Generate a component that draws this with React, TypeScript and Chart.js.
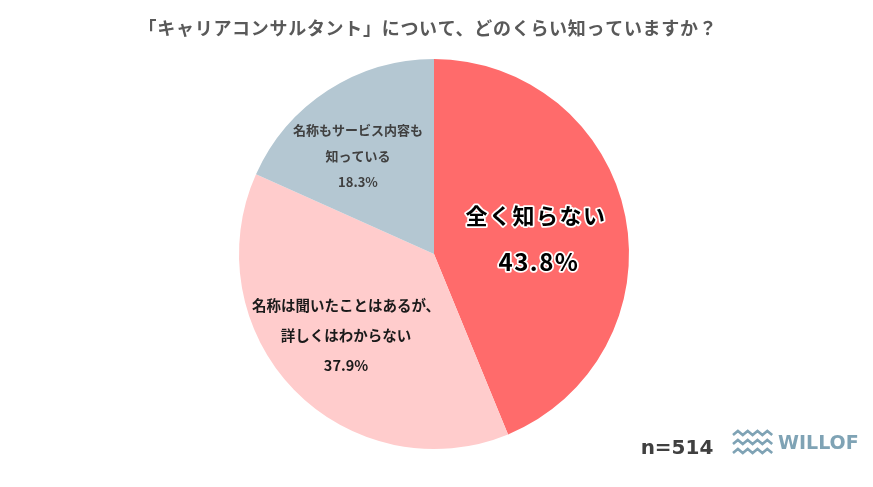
import React, { useEffect, useRef } from "react";
import { Chart, registerables } from "chart.js";

Chart.register(...registerables);

const title = "「キャリアコンサルタント」について、どのくらい知っていますか？";
const categories = ["全く知らない", "名称は聞いたことはあるが、詳しくはわからない", "名称もサービス内容も知っている"];
const labelLines = [["全く知らない", "43.8%"], ["名称は聞いたことはあるが、", "詳しくはわからない", "37.9%"], ["名称もサービス内容も", "知っている", "18.3%"]];
const values = [43.8, 37.9, 18.3];
const colors = ["#FF6B6B", "#FFCCCC", "#B4C7D2"];
const sampleNote = "n=514";
const brand = "WILLOF";

const JP = '"Noto Sans CJK JP", "Noto Sans", sans-serif';

const overlay = {
  id: "overlay",
  afterDraw(chart: any) {
    const ctx = chart.ctx as any;
    const arc = chart.getDatasetMeta(0).data[0];
    const cx = arc.x;
    const cy = arc.y;
    ctx.save();
    ctx.textAlign = "center";
    ctx.textBaseline = "middle";
    // title
    ctx.fillStyle = "#595959";
    ctx.font = `bold 18px ${JP}`;
    ctx.letterSpacing = "0.7px";
    ctx.fillText(title, 428, 28);

    // red label (with white halo)
    ctx.lineJoin = "round";
    ctx.lineWidth = 3.5;
    ctx.strokeStyle = "#ffffff";
    const rl = labelLines[0];
    const rpos = [[cx + 102, cy - 38], [cx + 105, cy + 8]];
    const rfont = [`bold 22px ${JP}`, `bold 24px ${JP}`];
    const rsp = ["1.5px", "1.5px"];
    rl.forEach((t, i) => {
      ctx.font = rfont[i];
      ctx.letterSpacing = rsp[i];
      ctx.strokeText(t, rpos[i][0], rpos[i][1]);
      ctx.fillStyle = "#000000";
      ctx.fillText(t, rpos[i][0], rpos[i][1]);
    });
    ctx.letterSpacing = "0px";

    // pink label
    ctx.fillStyle = "#1a1a1a";
    ctx.font = `bold 14.5px ${JP}`;
    labelLines[1].forEach((t, i) => {
      ctx.fillText(t, cx - 88, cy + 51 + i * 30);
    });

    // grey label
    ctx.fillStyle = "#404040";
    ctx.font = `bold 13px ${JP}`;
    labelLines[2].forEach((t, i) => {
      ctx.fillText(t, cx - 76, cy - 124 + i * 26);
    });

    // n
    ctx.fillStyle = "#404040";
    ctx.font = `bold 20px "DejaVu Sans", sans-serif`;
    ctx.fillText(sampleNote, 677, 449);

    // logo waves
    const logoColor = "#7FA3B5";
    ctx.strokeStyle = logoColor;
    ctx.lineWidth = 2.6;
    ctx.lineJoin = "miter";
    for (let r = 0; r < 3; r++) {
      const y0 = 433 + r * 9;
      ctx.beginPath();
      for (let k = 0; k <= 8; k++) {
        const x = 733 + k * 4.9;
        const y = k % 2 === 0 ? y0 + 2 : y0 - 2;
        if (k === 0) ctx.moveTo(x, y);
        else ctx.lineTo(x, y);
      }
      ctx.stroke();
    }
    ctx.fillStyle = logoColor;
    ctx.textAlign = "left";
    ctx.font = `bold 19px "DejaVu Sans", sans-serif`;
    ctx.fillText(brand, 778, 444);
    ctx.restore();
  },
};

export default function App() {
  const ref = useRef<HTMLCanvasElement>(null);
  useEffect(() => {
    const chart = new Chart(ref.current!, {
      type: "pie",
      data: {
        labels: categories,
        datasets: [
          {
            data: values,
            backgroundColor: colors,
            borderWidth: 0,
          },
        ],
      },
      options: {
        animation: false,
        responsive: false,
        maintainAspectRatio: false,
        layout: { padding: { left: 239, right: 244, top: 59, bottom: 38 } },
        plugins: {
          legend: { display: false },
          tooltip: { enabled: false },
        },
      },
      plugins: [overlay],
    });
    return () => chart.destroy();
  }, []);
  return (
    <div style={{ position: "fixed", left: 0, top: 0, width: 873, height: 487, background: "#fff" }}>
      <canvas ref={ref} width={873} height={487} />
    </div>
  );
}
